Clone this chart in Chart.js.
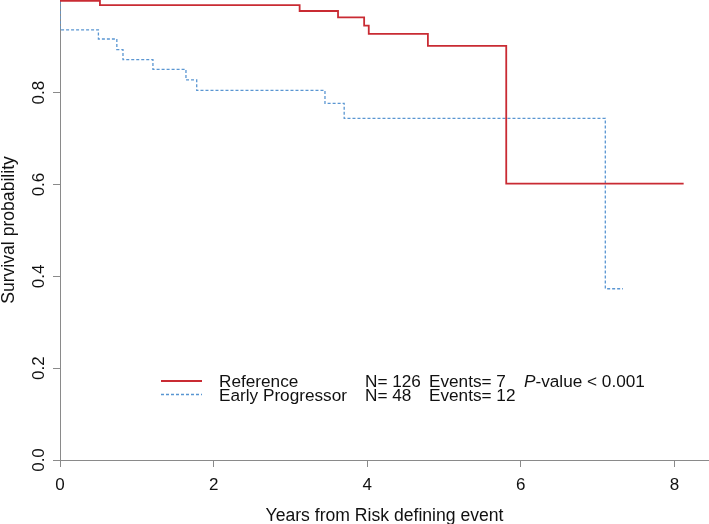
<!DOCTYPE html>
<html><head><meta charset="utf-8">
<script src="https://cdn.jsdelivr.net/npm/chart.js@4"></script>
<style>html,body{margin:0;padding:0;background:#fff}canvas{display:block}</style>
</head><body>
<canvas id="c" width="709" height="524"></canvas>
<script>
const refTimes = [0, 0.52, 3.12, 3.62, 3.96, 4.02, 4.79, 5.81, 8.12];
const refSurv  = [1.0, 0.991, 0.978, 0.964, 0.946, 0.928, 0.902, 0.602, 0.602];
const epTimes  = [0, 0, 0.50, 0.74, 0.82, 1.21, 1.64, 1.78, 3.45, 3.70, 7.10, 7.33];
const epSurv   = [1.0, 0.937, 0.917, 0.894, 0.872, 0.851, 0.828, 0.805, 0.777, 0.744, 0.373, 0.373];
const xTicks = [0, 2, 4, 6, 8];
const yTicks = [0, 0.2, 0.4, 0.6, 0.8];
const groupNames = ['Reference', 'Early Progressor'];
const groupN = [126, 48];
const groupEvents = [7, 12];
const pValueText = '-value < 0.001';
const xTitle = 'Years from Risk defining event';
const yTitle = 'Survival probability';

const FONT = '"Liberation Sans", Arial, sans-serif';
const RED = '#c92b33';
const BLUE = '#5a96d2';
const AXIS = '#8a8a8a';

const textPlugin = {
  id: 'rtext',
  afterDraw(chart) {
    const ctx = chart.ctx;
    const xs = chart.scales.x, ys = chart.scales.y;
    const ca = chart.chartArea;
    ctx.save();
    ctx.fillStyle = '#111';
    ctx.font = '17px ' + FONT;
    // x tick labels
    ctx.textAlign = 'center'; ctx.textBaseline = 'alphabetic';
    xs.ticks.forEach(t => ctx.fillText(String(t.value), xs.getPixelForValue(t.value), 490));
    // y tick labels (rotated)
    ys.ticks.forEach(t => {
      ctx.save();
      ctx.translate(43.5, ys.getPixelForValue(t.value));
      ctx.rotate(-Math.PI / 2);
      ctx.fillText(t.value.toFixed(1), 0, 0);
      ctx.restore();
    });
    // titles
    ctx.font = '17.6px ' + FONT;
    ctx.fillText(xTitle, (ca.left + ca.right) / 2, 521);
    ctx.save();
    ctx.translate(14, (ca.top + ca.bottom) / 2);
    ctx.rotate(-Math.PI / 2);
    ctx.fillText(yTitle, 0, 0);
    ctx.restore();
    // legend
    ctx.font = '17.2px ' + FONT;
    const rows = [381, 394.5];
    const base = [387, 401];
    ctx.lineWidth = 1.8; ctx.strokeStyle = RED; ctx.setLineDash([]);
    ctx.beginPath(); ctx.moveTo(161, rows[0]); ctx.lineTo(202, rows[0]); ctx.stroke();
    ctx.lineWidth = 1.3; ctx.strokeStyle = BLUE; ctx.setLineDash([3, 2]);
    ctx.beginPath(); ctx.moveTo(161, rows[1]); ctx.lineTo(202, rows[1]); ctx.stroke();
    ctx.setLineDash([]);
    ctx.textAlign = 'left';
    for (let i = 0; i < 2; i++) {
      ctx.fillText(groupNames[i], 219, base[i]);
      ctx.fillText('N= ' + groupN[i], 365, base[i]);
      ctx.fillText('Events= ' + groupEvents[i], 429, base[i]);
    }
    ctx.font = 'italic 17.2px ' + FONT;
    ctx.fillText('P', 524, base[0]);
    const pw = ctx.measureText('P').width;
    ctx.font = '17.2px ' + FONT;
    ctx.fillText(pValueText, 524 + pw, base[0]);
    ctx.restore();
  }
};

new Chart(document.getElementById('c'), {
  type: 'line',
  data: {
    datasets: [
      {
        label: groupNames[0],
        data: refTimes.map((t, i) => ({ x: t, y: refSurv[i] })),
        stepped: true, borderColor: RED, borderWidth: 1.8, pointRadius: 0, fill: false
      },
      {
        label: groupNames[1],
        data: epTimes.map((t, i) => ({ x: t, y: epSurv[i] })),
        stepped: true, borderColor: BLUE, borderWidth: 1.3, borderDash: [3, 2], pointRadius: 0, fill: false
      }
    ]
  },
  options: {
    responsive: false, animation: false, devicePixelRatio: 1,
    layout: { padding: 0 },
    plugins: { legend: { display: false }, tooltip: { enabled: false } },
    scales: {
      x: {
        type: 'linear', min: 0, max: 8.45,
        afterBuildTicks: s => { s.ticks = xTicks.map(v => ({ value: v })); },
        afterFit: s => { s.height = 64; },
        ticks: { display: false },
        grid: { drawOnChartArea: false, drawTicks: true, tickLength: 7, color: AXIS },
        border: { display: true, color: AXIS, width: 1 }
      },
      y: {
        type: 'linear', min: 0, max: 1.002,
        afterBuildTicks: s => { s.ticks = yTicks.map(v => ({ value: v })); },
        afterFit: s => { s.width = 60; },
        ticks: { display: false },
        grid: { drawOnChartArea: false, drawTicks: true, tickLength: 7, color: AXIS },
        border: { display: true, color: AXIS, width: 1 }
      }
    }
  },
  plugins: [textPlugin]
});
</script>
</body></html>
